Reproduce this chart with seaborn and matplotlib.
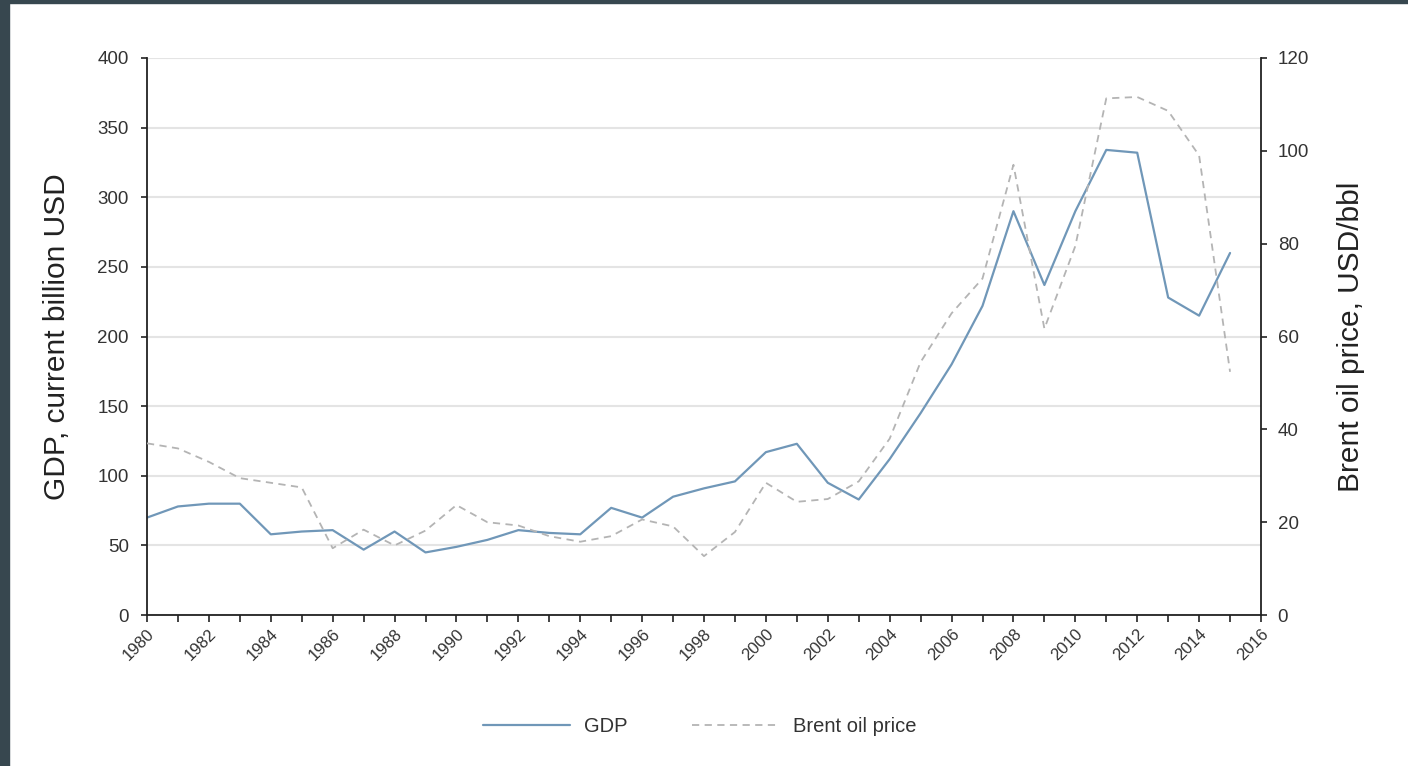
import matplotlib
matplotlib.use("Agg")
import matplotlib.pyplot as plt
import matplotlib.patches as mpatches
from matplotlib.lines import Line2D
import seaborn as sns
import pandas as pd

years = list(range(1980, 2016))
gdp = [70, 78, 80, 80, 58, 60, 61, 47, 60, 45, 49, 54, 61, 59, 58, 77, 70, 85,
       91, 96, 117, 123, 95, 83, 112, 145, 180, 222, 290, 237, 290, 334, 332,
       228, 215, 260]
brent = [37, 35.9, 33, 29.5, 28.5, 27.5, 14.4, 18.4, 15, 18.2, 23.7, 20, 19.3,
         17, 15.8, 17, 20.6, 19.1, 12.7, 17.9, 28.5, 24.4, 25, 28.8, 38, 54.5,
         65, 72.5, 97, 61.7, 79.5, 111.3, 111.6, 108.6, 99, 52.4]
x_ticks = list(range(1980, 2017, 2))
gdp_ticks = list(range(0, 401, 50))
oil_ticks = list(range(0, 121, 20))

df = pd.DataFrame({"year": years, "GDP": gdp, "Brent": brent})

sns.set_theme(style="white")
plt.rcParams['font.family'] = ['Liberation Sans', 'DejaVu Sans']

fig = plt.figure(figsize=(14.08, 7.66), dpi=100)
ax = fig.add_axes([147 / 1408, 0.197, 1114 / 1408, 0.7273])
ax2 = ax.twinx()

gdp_color = "#7097b8"
oil_color = "#b4b4b4"

sns.lineplot(data=df, x="year", y="GDP", ax=ax, color=gdp_color, linewidth=1.6)
sns.lineplot(data=df, x="year", y="Brent", ax=ax2, color=oil_color,
             linewidth=1.3, linestyle=(0, (4, 3)))

ax.set_xlim(1980, 2016)
ax.set_ylim(0, 400)
ax2.set_ylim(0, 120)
ax.set_xticks(x_ticks)
ax.set_xticks(years + [2016], minor=True)
ax.set_xticklabels([str(t) for t in x_ticks], rotation=45, ha="right",
                   rotation_mode="anchor", fontsize=12, color="#333333")
ax.set_yticks(gdp_ticks)
ax.set_yticklabels([str(t) for t in gdp_ticks], fontsize=13.5, color="#333333")
ax2.set_yticks(oil_ticks)
ax2.set_yticklabels([str(t) for t in oil_ticks], fontsize=13.5, color="#333333")

ax.grid(axis="y", color="#e4e4e4", linewidth=1.5)
ax.grid(axis="x", visible=False)
ax2.grid(False)
ax.set_axisbelow(True)

for a in (ax, ax2):
    for s in a.spines.values():
        s.set_visible(False)
ax.spines["left"].set_visible(True)
ax.spines["bottom"].set_visible(True)
ax2.spines["right"].set_visible(True)
for s in (ax.spines["left"], ax.spines["bottom"], ax2.spines["right"]):
    s.set_color("#222222")
    s.set_linewidth(1.3)

ax.tick_params(axis="x", which="both", direction="out", bottom=True,
               length=5, width=1.2, color="#222222", pad=3)
ax.tick_params(axis="y", direction="out", left=True, length=4, width=1.2,
               color="#222222", pad=9)
ax2.tick_params(axis="y", direction="out", right=True, length=4, width=1.2,
                color="#222222", pad=8)

ax.set_xlabel("")
ax.set_ylabel("GDP, current billion USD", fontsize=21.5, color="#222222",
              labelpad=19)
ax2.set_ylabel("Brent oil price, USD/bbl", fontsize=21.5, color="#222222",
               labelpad=20)

handles = [Line2D([0], [0], color=gdp_color, linewidth=1.6),
           Line2D([0], [0], color=oil_color, linewidth=1.3,
                  linestyle=(0, (4, 3)))]
fig.legend(handles, ["GDP", "Brent oil price"], loc="center",
           bbox_to_anchor=(0.497, 0.052), ncol=2, frameon=False,
           fontsize=14.5, handlelength=4.3, columnspacing=3.2,
           handletextpad=0.7, labelcolor="#333333")

# dark frame border (left and top)
border = "#37474f"
fig.patches.append(mpatches.Rectangle((0, 0), 9 / 1408, 1,
                                      transform=fig.transFigure,
                                      color=border, zorder=10))
fig.patches.append(mpatches.Rectangle((0, 1 - 3 / 766), 1, 3 / 766,
                                      transform=fig.transFigure,
                                      color=border, zorder=10))

fig.savefig("out.png", dpi=100, facecolor="white")
